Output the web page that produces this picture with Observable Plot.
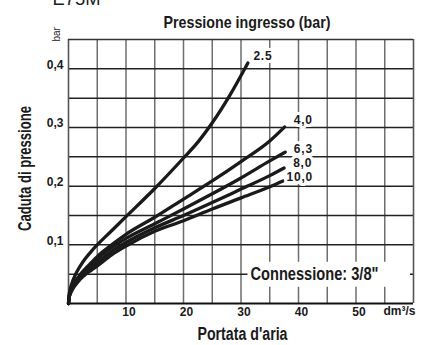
<!DOCTYPE html>
<html><head><meta charset="utf-8">
<script src="https://cdn.jsdelivr.net/npm/d3@7"></script>
<script src="https://cdn.jsdelivr.net/npm/@observablehq/plot@0.6"></script>
<style>
html,body{margin:0;padding:0;background:#fff;}
#chart svg{display:block;}
.t-series text{letter-spacing:0.8px;}
</style></head><body><div id="chart"></div>
<script>
// ---- data ----
const pressures = ["2.5", "4,0", "6,3", "8,0", "10,0"];
const flow_2_5  = [0, 0.1, 0.3, 0.6, 1, 1.5, 2, 3, 4, 5, 7.5, 10, 15, 20, 22.5, 25, 28, 31.2];
const drop_2_5  = [0, 0.014, 0.0245, 0.0346, 0.0447, 0.0548, 0.0632, 0.0774, 0.0894, 0.1, 0.124, 0.148, 0.196, 0.248, 0.275, 0.308, 0.354, 0.41];
const flow_4_0  = [0, 0.1, 0.3, 0.6, 1, 1.5, 2, 3, 4, 5, 7.5, 10, 15, 20, 25, 30, 35, 37.6];
const drop_4_0  = [0, 0.011, 0.019, 0.027, 0.035, 0.042, 0.049, 0.06, 0.07, 0.08, 0.1, 0.118, 0.147, 0.178, 0.209, 0.242, 0.277, 0.301];
const flow_6_3  = [0, 0.1, 0.3, 0.6, 1, 1.5, 2, 3, 4, 5, 7.5, 10, 15, 20, 25, 30, 35, 37.7];
const drop_6_3  = [0, 0.0106, 0.018, 0.026, 0.0335, 0.041, 0.047, 0.058, 0.067, 0.076, 0.095, 0.111, 0.136, 0.161, 0.187, 0.214, 0.243, 0.258];
const flow_8_0  = [0, 0.1, 0.3, 0.6, 1, 1.5, 2, 3, 4, 5, 7.5, 10, 15, 20, 25, 30, 35, 37.5];
const drop_8_0  = [0, 0.0099, 0.017, 0.024, 0.031, 0.038, 0.044, 0.054, 0.062, 0.07, 0.089, 0.104, 0.129, 0.15, 0.172, 0.195, 0.218, 0.231];
const flow_10_0 = [0, 0.1, 0.3, 0.6, 1, 1.5, 2, 3, 4, 5, 7.5, 10, 15, 20, 25, 30, 35, 37.3];
const drop_10_0 = [0, 0.009, 0.016, 0.022, 0.029, 0.035, 0.041, 0.05, 0.057, 0.064, 0.083, 0.098, 0.123, 0.141, 0.161, 0.18, 0.199, 0.209];
const xTicks = [10, 20, 30, 40, 50];
const yTicks = [0.1, 0.2, 0.3, 0.4];
const xGrid = [5, 10, 15, 20, 25, 30, 35, 40, 45, 50, 55];
const yGrid = [0.05, 0.1, 0.15, 0.2, 0.25, 0.3, 0.35, 0.4];
const xDomain = [0, 60];
const yDomain = [0, 0.45];
const modelName = "E75M";
const titleText = "Pressione ingresso (bar)";
const yLabel = "Caduta di pressione";
const yUnit = "bar";
const xLabel = "Portata d'aria";
const xUnit = "dm³/s";
const noteText = "Connessione: 3/8\"";

// ---- build table ----
const flows = [flow_2_5, flow_4_0, flow_6_3, flow_8_0, flow_10_0];
const drops = [drop_2_5, drop_4_0, drop_6_3, drop_8_0, drop_10_0];
const rows = pressures.flatMap((p, i) => flows[i].map((f, j) => ({series: p, flow: f, drop: drops[i][j]})));
const ends = pressures.map((p, i) => ({series: p, flow: flows[i][flows[i].length - 1], drop: drops[i][drops[i].length - 1]}));

// label offsets (style)
const labOff = [[5.5, -7], [9, -7], [8.5, -2.5], [9, -5], [3.5, -3.5]];

const ink = "#1a1a1a";
const T = {lineAnchor: "middle", fill: ink};
const chart = Plot.plot({
  width: 423, height: 345,
  marginLeft: 68, marginRight: 10, marginTop: 39, marginBottom: 42,
  style: {fontFamily: "'Liberation Sans', Arial, sans-serif", background: "#fff", color: ink},
  x: {domain: xDomain},
  y: {domain: yDomain},
  marks: [
    Plot.axisX(xTicks, {tickSize: 0, tickPadding: 3.5, dx: 3, fontSize: 12, fontWeight: "bold", label: null, fill: ink}),
    Plot.axisY(yTicks, {tickSize: 0, tickPadding: 5, dy: -4, fontSize: 12, fontWeight: "bold", label: null, fill: ink,
      tickFormat: d => String(d).replace(".", ",")}),
    Plot.gridX(xGrid, {stroke: "#6e6e6e", strokeOpacity: 1, strokeWidth: 1.5}),
    Plot.gridY(yGrid, {stroke: "#222", strokeOpacity: 1, strokeWidth: 1.5}),
    Plot.gridX(xDomain, {stroke: "#555", strokeOpacity: 1, strokeWidth: 1.6}),
    Plot.gridY([yDomain[1]], {stroke: "#333", strokeOpacity: 1, strokeWidth: 1.5}),
    Plot.gridY([yDomain[0]], {stroke: "#111", strokeOpacity: 1, strokeWidth: 1.8}),
    Plot.line(rows, {x: "flow", y: "drop", z: "series", stroke: ink, strokeWidth: 3.3, curve: "monotone-x", strokeLinecap: "round", strokeLinejoin: "round"}),
    ...ends.map((e, i) => Plot.text([e], {x: "flow", y: "drop", text: "series", textAnchor: "start",
      dx: labOff[i][0], dy: labOff[i][1], fontSize: 12, fontWeight: "bold", fill: ink, lineAnchor: "middle",
      stroke: "white", strokeWidth: 6, paintOrder: "stroke", className: "t-series"})),
    Plot.text([modelName], {...T, frameAnchor: "top-left", textAnchor: "start", dx: -16, dy: -40, fontSize: 18, className: "t-model"}),
    Plot.text([titleText], {...T, frameAnchor: "top-left", textAnchor: "start", dx: 95, dy: -17, fontSize: 17, fontWeight: "bold", className: "t-title"}),
    Plot.text([yUnit], {...T, frameAnchor: "top-left", dx: -12, dy: 2, rotate: -90, fontSize: 10}),
    Plot.text([yLabel], {...T, frameAnchor: "bottom-left", textAnchor: "start", dx: -43, dy: -72.5, rotate: -90, fontSize: 18, fontWeight: "bold", className: "t-ylabel"}),
    Plot.text([xLabel], {...T, frameAnchor: "bottom-left", textAnchor: "start", dx: 129, dy: 31, fontSize: 18, fontWeight: "bold", className: "t-xlabel"}),
    Plot.text([xUnit], {...T, frameAnchor: "bottom-right", textAnchor: "end", dx: 2, dy: 8, fontSize: 12, fontWeight: "bold"}),
    Plot.text([noteText], {...T, frameAnchor: "bottom-left", textAnchor: "start", dx: 182, dy: -29, fontSize: 18, fontWeight: "bold", className: "t-note"})
  ]
});
document.getElementById("chart").appendChild(chart);

function condense(cls, w) {
  chart.querySelectorAll("g." + cls + " text").forEach(t => {
    t.setAttribute("textLength", w);
    t.setAttribute("lengthAdjust", "spacingAndGlyphs");
  });
}
condense("t-model", 48);
condense("t-title", 167);
condense("t-ylabel", 125);
condense("t-xlabel", 90);
condense("t-note", 128);

// white box behind the connection note (cuts gridlines as in the original)
const noteEl = chart.querySelector("g.t-note text");
if (noteEl) {
  const sr = chart.getBoundingClientRect();
  const tr = noteEl.getBoundingClientRect();
  const x0 = tr.left - sr.left - 3;
  const cy = tr.top - sr.top + tr.height / 2;
  const rightEdge = +chart.getAttribute("width") - 10 - 3;
  const r = document.createElementNS("http://www.w3.org/2000/svg", "rect");
  r.setAttribute("x", x0);
  r.setAttribute("y", cy - 12.5);
  r.setAttribute("width", rightEdge - x0);
  r.setAttribute("height", 25);
  r.setAttribute("fill", "white");
  const g = noteEl.parentNode;
  g.parentNode.insertBefore(r, g);
}
</script></body></html>
